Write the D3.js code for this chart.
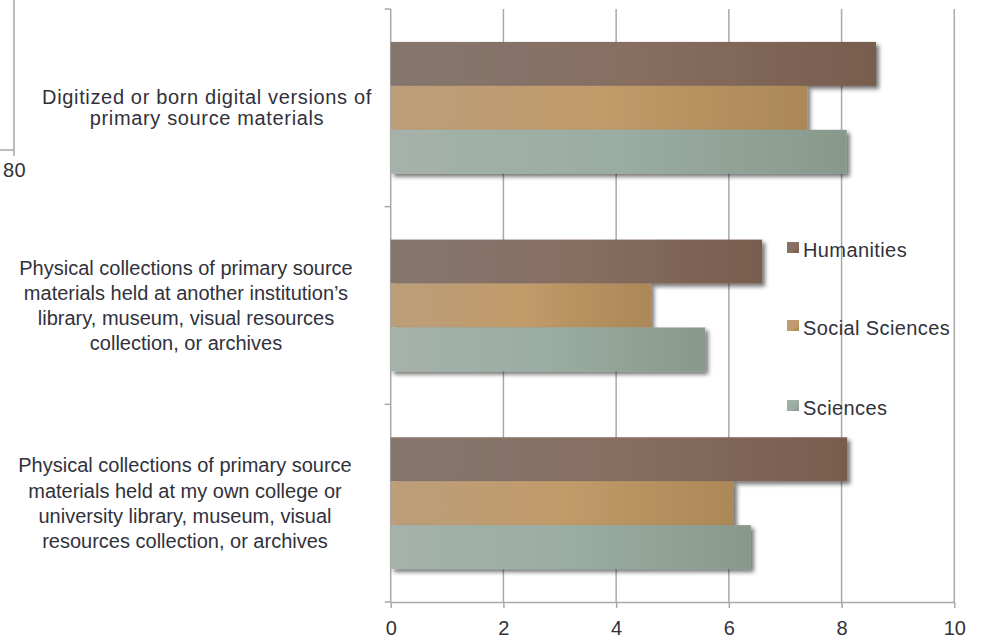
<!DOCTYPE html>
<html>
<head>
<meta charset="utf-8">
<script src="https://cdn.jsdelivr.net/npm/d3@7/dist/d3.min.js"></script>
<style>
  html, body { margin: 0; padding: 0; background: #fff; }
  svg { display: block; font-family: "Liberation Sans", Arial, sans-serif; }
  .lbl { font-size: 20px; }
  .wide { letter-spacing: 0.65px; }
  .leg { letter-spacing: 0.4px; }
</style>
</head>
<body>
<svg id="chart" width="985" height="641"></svg>
<script>
// ---- data ----
const categories = [
  "Digitized or born digital versions of primary source materials",
  "Physical collections of primary source materials held at another institution’s library, museum, visual resources collection, or archives",
  "Physical collections of primary source materials held at my own college or university library, museum, visual resources collection, or archives"
];
const categoryLines = [
  ["Digitized or born digital versions of", "primary source materials"],
  ["Physical collections of primary source", "materials held at another institution’s", "library, museum, visual resources", "collection, or archives"],
  ["Physical collections of primary source", "materials held at my own college or", "university library, museum, visual", "resources collection, or archives"]
];
const seriesNames = ["Humanities", "Social Sciences", "Sciences"];
const humanities     = [8.61, 6.59, 8.10];
const socialSciences = [7.39, 4.62, 6.09];
const sciences       = [8.09, 5.58, 6.39];
const xTicks = [0, 2, 4, 6, 8, 10];

// ---- layout ----
const plot = { left: 390.7, right: 954.3, top: 9, bottom: 602 };
const labelCenters = [207, 186, 185];
const labelLineHeights = [21, 25.3, 25.3];
const labelClasses = ["lbl wide", "lbl", "lbl"];
const textColor = "#31313b";
const gridColor = "#a9a9a9";
const gradStops = {
  "Humanities":      ["#85766d", "#876e61", "#785d4e"],
  "Social Sciences": ["#bb9e7a", "#c19b6a", "#ab8857"],
  "Sciences":        ["#a5b2a9", "#9aada2", "#88998c"]
};

const seriesValues = [humanities, socialSciences, sciences];
const rows = categories.map((c, i) => ({
  cat: c, i,
  vals: seriesNames.map((s, k) => ({ series: s, value: seriesValues[k][i] }))
}));

const svg = d3.select("#chart");
const defs = svg.append("defs");

seriesNames.forEach((s, k) => {
  const g = defs.append("linearGradient").attr("id", "grad" + k)
    .attr("x1", 0).attr("y1", 0).attr("x2", 1).attr("y2", 0);
  const st = gradStops[s];
  g.append("stop").attr("offset", "0%").attr("stop-color", st[0]);
  g.append("stop").attr("offset", "50%").attr("stop-color", st[1]);
  g.append("stop").attr("offset", "100%").attr("stop-color", st[2]);
  const gl = defs.append("linearGradient").attr("id", "lgrad" + k)
    .attr("x1", 0).attr("y1", 0).attr("x2", 1).attr("y2", 1);
  gl.append("stop").attr("offset", "0%").attr("stop-color", st[0]);
  gl.append("stop").attr("offset", "60%").attr("stop-color", st[1]);
  gl.append("stop").attr("offset", "100%").attr("stop-color", st[2]);
});

const filt = defs.append("filter").attr("id", "shadow")
  .attr("x", "-5%").attr("y", "-20%").attr("width", "115%").attr("height", "160%");
filt.append("feDropShadow").attr("dx", 3).attr("dy", 3).attr("stdDeviation", 2)
  .attr("flood-color", "#000").attr("flood-opacity", 0.55);

// ---- scales ----
const x = d3.scaleLinear().domain([0, 10]).range([plot.left, plot.right]);
const y = d3.scaleBand().domain(categories).range([plot.top, plot.bottom]).paddingInner(0).paddingOuter(0);
const yInner = d3.scaleBand().domain(seriesNames).range([0, y.bandwidth()])
  .paddingInner(0).paddingOuter(0.75);

// ---- leftover axis fragment from a neighbouring chart ----
const frag = svg.append("g").attr("stroke", gridColor).attr("stroke-width", 1.5);
frag.append("line").attr("x1", 14).attr("x2", 14).attr("y1", 0).attr("y2", 156);
frag.append("line").attr("x1", 0).attr("x2", 14).attr("y1", 150).attr("y2", 150);
svg.append("text").attr("class", "lbl leg").attr("x", 3).attr("y", 177)
  .attr("fill", textColor).text("80");

// ---- gridlines ----
svg.append("g").selectAll("line").data(xTicks.filter(d => d > 0)).join("line")
  .attr("x1", d => x(d)).attr("x2", d => x(d))
  .attr("y1", plot.top).attr("y2", plot.bottom)
  .attr("stroke", gridColor).attr("stroke-width", 1.5);

// ---- x axis ----
const xAxis = svg.append("g").attr("transform", `translate(0,${plot.bottom})`)
  .call(d3.axisBottom(x).tickValues(xTicks).tickSize(6).tickSizeOuter(0).tickPadding(13));
xAxis.select(".domain").attr("stroke", gridColor).attr("stroke-width", 1.5);
xAxis.selectAll(".tick line").attr("stroke", gridColor).attr("stroke-width", 1.5);
xAxis.selectAll(".tick text").attr("class", "lbl").attr("font-size", null).attr("fill", textColor)
  .attr("font-family", "Liberation Sans, Arial, sans-serif");

// ---- y axis (line + boundary ticks) ----
const yAxis = svg.append("g");
yAxis.append("line").attr("x1", plot.left).attr("x2", plot.left)
  .attr("y1", plot.top).attr("y2", plot.bottom)
  .attr("stroke", gridColor).attr("stroke-width", 1.5);
const bounds = categories.map(c => y(c)).concat([y(categories[categories.length - 1]) + y.bandwidth()]);
yAxis.selectAll("line.b").data(bounds).join("line").attr("class", "b")
  .attr("x1", plot.left - 6).attr("x2", plot.left)
  .attr("y1", d => d).attr("y2", d => d)
  .attr("stroke", gridColor).attr("stroke-width", 1.5);

// ---- category labels ----
rows.forEach(r => {
  const lines = categoryLines[r.i];
  const lh = labelLineHeights[r.i];
  const cy = y(r.cat) + y.bandwidth() / 2;
  const firstBase = cy - (lines.length - 1) * lh / 2 + 7;
  const t = svg.append("text").attr("class", labelClasses[r.i]).attr("fill", textColor)
    .attr("text-anchor", "middle");
  lines.forEach((ln, j) => {
    t.append("tspan").attr("x", labelCenters[r.i]).attr("y", firstBase + j * lh).text(ln);
  });
});

// ---- bars ----
const groups = svg.append("g").selectAll("g").data(rows).join("g")
  .attr("transform", d => `translate(0,${y(d.cat)})`);
groups.selectAll("rect").data(d => d.vals).join("rect")
  .attr("x", x(0))
  .attr("y", d => yInner(d.series))
  .attr("width", d => x(d.value) - x(0))
  .attr("height", yInner.bandwidth())
  .attr("fill", d => `url(#grad${seriesNames.indexOf(d.series)})`)
  .attr("filter", "url(#shadow)");

// ---- legend ----
const legendY = [242, 320, 400];
const legend = svg.append("g");
seriesNames.forEach((s, k) => {
  legend.append("rect").attr("x", 787).attr("y", legendY[k]).attr("width", 12).attr("height", 11)
    .attr("fill", `url(#lgrad${k})`);
  legend.append("text").attr("class", "lbl leg").attr("x", 803).attr("y", legendY[k] + 15)
    .attr("fill", textColor).text(s);
});
</script>
</body>
</html>
